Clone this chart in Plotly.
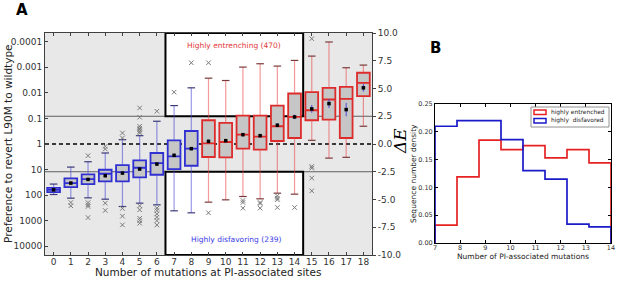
import math
import plotly.graph_objects as go

# ---------------- Panel A data (values in ΔE units; right axis) ----------------
positions = list(range(19))
q3 = [-3.95, -3.10, -2.74, -2.32, -1.90, -1.48, -0.81, 0.33, 1.17, 2.14,
      1.90, 2.56, 2.56, 3.46, 4.55, 4.67, 5.06, 5.15, 6.42]
q1 = [-4.34, -3.89, -3.61, -3.37, -3.37, -3.01, -2.77, -2.26, -1.96, -1.17,
      -1.20, -0.42, -0.51, 0.27, 0.54, 2.14, 2.20, 0.54, 4.31]
medians = [-4.13, -3.52, -3.16, -2.68, -2.53, -2.14, -1.72, -1.11, -0.42, 0.06,
           0.18, 0.84, 0.66, 1.60, 2.44, 3.04, 4.01, 4.07, 5.51]
means = [-4.13, -3.52, -3.19, -2.86, -2.62, -2.26, -1.81, -1.02, -0.42, 0.24,
         0.30, 0.84, 0.75, 1.69, 2.44, 3.16, 3.64, 3.10, 5.06]
mean_err = [0.08, 0.08, 0.08, 0.10, 0.10, 0.10, 0.12, 0.15, 0.15, 0.15,
            0.15, 0.15, 0.15, 0.18, 0.2, 0.35, 0.4, 0.6, 0.35]
whisk_hi = [-3.61, -2.08, -1.60, -0.81, 0.39, 0.75, 2.05, 3.46, 5.06, 5.93,
            5.72, 6.93, 7.23, 7.02, 7.53, 7.92, 9.19, 6.87, 7.11]
whisk_lo = [-4.55, -4.88, -4.85, -4.97, -5.63, -5.33, -5.48, -6.02, -6.20, -5.24,
            -5.03, -4.73, -4.94, -4.43, -4.52, 0.33, -1.27, -1.20, 1.60]
outlier_x = [1, 1,
             2, 2, 2, 2, 2,
             3, 3, 3, 3,
             4, 4, 4, 4, 4,
             5, 5, 5, 5, 5, 5, 5, 5, 5, 5, 5, 5,
             6, 6, 6, 6, 6, 6, 6,
             7, 8, 9, 9,
             11, 11, 11, 12, 12, 12,
             13, 13, 13, 13, 14,
             15, 15, 15, 15, 15]
outlier_y = [-5.27, -5.57,
             -1.05, -5.27, -5.48, -5.63, -6.63,
             -0.21, -0.45, -5.33, -5.99,
             0.99, 0.54, -5.8, -6.5, -7.29,
             3.25, 2.41, 1.60, 1.42, 1.30, 1.14, 0.99, -5.57, -5.93, -6.69, -6.90, -7.14,
             2.95, -5.78, -6.0, -6.3, -6.6, -6.9, -7.3,
             4.67, 7.32, 7.32, -6.20,
             -5.09, -5.27, -5.78, -5.27, -5.36, -5.78,
             -4.67, -4.88, -5.03, -5.72, -5.72,
             9.49, -2.02, -2.17, -3.07, -4.22]
blue_positions = [0, 1, 2, 3, 4, 5, 6, 7, 8]
pref_ticks = ["0.0001", "0.001", "0.01", "0.1", "1", "10", "100", "1000", "10000"]
de_ticks = [10.0, 7.5, 5.0, 2.5, 0.0, -2.5, -5.0, -7.5, -10.0]
threshold = 2.5
entrench_label = "Highly entrenching (470)"
disfavor_label = "Highly disfavoring (239)"

# ---------------- Panel B data ----------------
hist_edges = [7, 7.875, 8.75, 9.625, 10.5, 11.375, 12.25, 13.125, 14]
entrenched_density = [0.032, 0.119, 0.185, 0.168, 0.175, 0.153, 0.168, 0.144]
disfavored_density = [0.210, 0.220, 0.220, 0.186, 0.130, 0.115, 0.034, 0.029]
b_xticks = [7, 8, 9, 10, 11, 12, 13, 14]
b_yticks = [0.0, 0.05, 0.10, 0.15, 0.20, 0.25]

# ---------------- styling ----------------
W, H = 617, 281
FONT = "DejaVu Sans"
BLUE = "#2f2fd2"
RED = "#dd2b2b"
WBLUE = "rgba(70,70,215,0.55)"
WRED = "rgba(232,70,70,0.55)"
CAP_BLUE = "#3a3a78"
CAP_RED = "#7a3a3a"
BOXFILL = "#c6c6c6"
BG = "#e8e8e8"
AXC = "#404040"


def px_x(p):
    return p / W


def px_y(p):
    return 1 - p / H


fig = go.Figure()


def add_group(idx, color, wcolor, capcolor):
    wx, wy, cx, cy = [], [], [], []
    for i in idx:
        p = positions[i]
        wx += [p, p, None, p, p, None]
        wy += [q3[i], whisk_hi[i], None, q1[i], whisk_lo[i], None]
        for v in (whisk_hi[i], whisk_lo[i]):
            cx += [p - 0.22, p + 0.22, None]
            cy += [v, v, None]
    fig.add_trace(go.Scatter(x=wx, y=wy, mode="lines", line=dict(color=wcolor, width=1.2),
                             showlegend=False, hoverinfo="skip", xaxis="x", yaxis="y"))
    fig.add_trace(go.Scatter(x=cx, y=cy, mode="lines", line=dict(color=capcolor, width=1.2),
                             showlegend=False, hoverinfo="skip", xaxis="x", yaxis="y"))
    fig.add_trace(go.Box(
        x=[positions[i] for i in idx],
        q1=[q1[i] for i in idx], median=[medians[i] for i in idx], q3=[q3[i] for i in idx],
        lowerfence=[q1[i] for i in idx], upperfence=[q3[i] for i in idx],
        width=0.74, fillcolor=BOXFILL, line=dict(color=color, width=1.8),
        boxpoints=False, whiskerwidth=0, showlegend=False, xaxis="x", yaxis="y"))


blue_idx = [i for i in range(len(positions)) if positions[i] in blue_positions]
red_idx = [i for i in range(len(positions)) if positions[i] not in blue_positions]
add_group(blue_idx, BLUE, WBLUE, CAP_BLUE)
add_group(red_idx, RED, WRED, CAP_RED)

fig.add_trace(go.Scatter(x=outlier_x, y=outlier_y, mode="markers",
                         marker=dict(symbol="x-thin", size=4.5, line=dict(color="#7a7a7a", width=1)),
                         showlegend=False, xaxis="x", yaxis="y"))
fig.add_trace(go.Scatter(x=positions, y=means, mode="markers",
                         marker=dict(symbol="square", size=3.5, color="black"),
                         error_y=dict(type="data", array=mean_err, color="#4a4ae0", thickness=1, width=0),
                         showlegend=False, xaxis="x", yaxis="y"))
# invisible trace to activate right axis
fig.add_trace(go.Scatter(x=[positions[0]], y=[0], mode="markers", marker=dict(opacity=0),
                         showlegend=False, hoverinfo="skip", xaxis="x", yaxis="y2"))

# ---------------- Panel B traces ----------------
def step_xy(vals):
    xs = [hist_edges[0]]
    ys = [0]
    for k, v in enumerate(vals):
        xs.append(hist_edges[k])
        ys.append(v)
    xs += [hist_edges[-1], hist_edges[-1]]
    ys += [vals[-1], 0]
    return xs, ys


ex, ey = step_xy(entrenched_density)
dx, dy = step_xy(disfavored_density)
fig.add_trace(go.Scatter(x=ex, y=ey, mode="lines", line=dict(color="#e62222", width=1.7, shape="hv"),
                         showlegend=False, xaxis="x2", yaxis="y3"))
fig.add_trace(go.Scatter(x=dx, y=dy, mode="lines", line=dict(color="#1a1ac8", width=1.7, shape="hv"),
                         showlegend=False, xaxis="x2", yaxis="y3"))

# ---------------- shapes ----------------
shapes = [
    dict(type="rect", xref="x domain", yref="y domain", x0=0, x1=1, y0=0, y1=1,
         fillcolor=BG, line=dict(width=0), layer="below"),
    dict(type="line", xref="x domain", yref="y", x0=0, x1=1, y0=threshold, y1=threshold,
         line=dict(color="#606060", width=1), layer="below"),
    dict(type="line", xref="x domain", yref="y", x0=0, x1=1, y0=-threshold, y1=-threshold,
         line=dict(color="#606060", width=1), layer="below"),
    dict(type="rect", xref="x", yref="y", x0=6.5, x1=14.5, y0=threshold, y1=10,
         fillcolor="white", line=dict(color="black", width=2), layer="below"),
    dict(type="rect", xref="x", yref="y", x0=6.5, x1=14.5, y0=-10, y1=-threshold,
         fillcolor="white", line=dict(color="black", width=2), layer="below"),
    dict(type="line", xref="x domain", yref="y", x0=0, x1=1, y0=0, y1=0,
         line=dict(color="black", width=1.6, dash="4px,3px"), layer="below"),
    # legend of panel B
    dict(type="rect", xref="paper", yref="paper", x0=px_x(531), x1=px_x(609), y0=px_y(127), y1=px_y(107),
         fillcolor="white", line=dict(color="#909090", width=1)),
    dict(type="rect", xref="paper", yref="paper", x0=px_x(534), x1=px_x(546), y0=px_y(114.5), y1=px_y(110),
         fillcolor="white", line=dict(color="#e62222", width=1.5)),
    dict(type="rect", xref="paper", yref="paper", x0=px_x(534), x1=px_x(546), y0=px_y(123), y1=px_y(118.5),
         fillcolor="white", line=dict(color="#1a1ac8", width=1.5)),
]


def ann(text, x, y, size, color="#222", family=FONT, angle=0, xanchor="center", xref="paper", yref="paper"):
    return dict(text=text, x=x, y=y, xref=xref, yref=yref, showarrow=False, textangle=angle,
                xanchor=xanchor, yanchor="middle", font=dict(size=size, color=color, family=family))


annotations = [
    ann("<b>A</b>", px_x(22), px_y(10), 15, "black"),
    ann("<b>B</b>", px_x(435), px_y(48), 15, "black"),
    ann("Preference to revert L90M to wildtype", px_x(8), px_y(144), 10.5, angle=-90),
    ann("Number of mutations at PI-associated sites", px_x(208), px_y(272), 10.5),
    ann("<i>ΔE</i>", px_x(400), px_y(141), 17, "black", "DejaVu Serif", angle=-90),
    ann(entrench_label, 10.5, 8.9, 7.5, "#e03a3a", xref="x", yref="y"),
    ann(disfavor_label, 10.6, -8.6, 7.5, "#3a3ae6", xref="x", yref="y"),
    ann("Sequence number density", px_x(413), px_y(174), 7.5, angle=-90),
    ann("Number of PI-associated mutations", px_x(523), px_y(256), 7.5),
    ann("highly entrenched", px_x(549), px_y(112.5), 5.9, xanchor="left"),
    ann("highly  disfavored", px_x(549), px_y(120.5), 5.9, xanchor="left"),
]

fig.update_layout(
    template="none",
    width=W, height=H, autosize=False,
    margin=dict(l=0, r=0, t=0, b=0, pad=0),
    paper_bgcolor="white", plot_bgcolor="rgba(0,0,0,0)",
    font=dict(family=FONT, size=9, color="#333"),
    boxmode="overlay",
    shapes=shapes, annotations=annotations,
    xaxis=dict(domain=[px_x(45), px_x(372)], range=[-0.5, 18.5], tickvals=positions,
               ticktext=[str(p) for p in positions], ticks="inside", ticklen=3, tickcolor=AXC,
               showline=True, linecolor=AXC, linewidth=1, mirror="ticks", showgrid=False,
               zeroline=False, anchor="y", automargin=False, ticklabelstandoff=-2,
               tickfont=dict(size=9, color="#333")),
    yaxis=dict(domain=[px_y(255), px_y(33)], range=[-10, 10],
               tickvals=[-math.log(float(t)) for t in pref_ticks], ticktext=pref_ticks,
               ticks="inside", ticklen=3, tickcolor=AXC, showline=True, linecolor=AXC,
               showgrid=False, zeroline=False, anchor="x", automargin=False,
               tickfont=dict(size=9, color="#333")),
    yaxis2=dict(overlaying="y", side="right", range=[-10, 10], tickvals=de_ticks,
                ticktext=["%.1f" % v for v in de_ticks], ticks="outside", ticklen=3, tickcolor=AXC,
                showline=True, linecolor=AXC, showgrid=False, zeroline=False, anchor="x",
                automargin=False, tickfont=dict(size=9, color="#333")),
    xaxis2=dict(domain=[px_x(435), px_x(611)], range=[7, 14], tickvals=b_xticks,
                ticks="inside", ticklen=3, tickcolor="black", showline=True, linecolor="black",
                mirror="ticks", showgrid=False, zeroline=False, anchor="y3", automargin=False,
                ticklabelstandoff=-2, tickfont=dict(size=6.5, color="#333")),
    yaxis3=dict(domain=[px_y(243), px_y(104)], range=[0, 0.25], tickvals=b_yticks, tickformat=".2f",
                ticks="inside", ticklen=3, tickcolor="black", showline=True, linecolor="black",
                mirror="ticks", showgrid=False, zeroline=False, anchor="x2", automargin=False,
                tickfont=dict(size=6.5, color="#333")),
)

fig.write_html("out.html", config={"displayModeBar": False},
               post_script="document.body.style.margin='0';document.body.style.overflow='hidden';")
